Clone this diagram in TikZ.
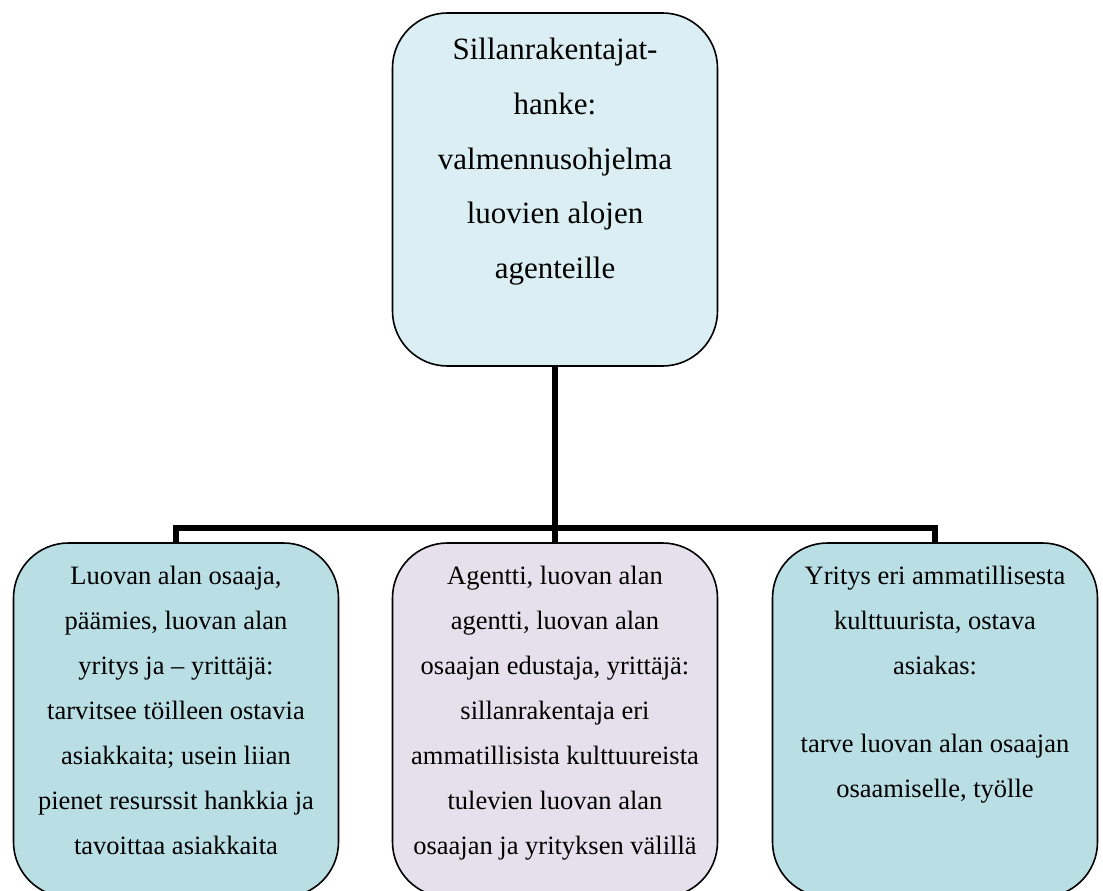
\documentclass[tikz,border=0pt]{standalone}
\usepackage{fontspec}
\setmainfont{Liberation Serif}

\definecolor{topfill}{HTML}{DAEEF3}
\definecolor{sidefill}{HTML}{B9DFE5}
\definecolor{midfill}{HTML}{E5E0EC}

\begin{document}
\begin{tikzpicture}[x=1pt,y=-1pt,
  box/.style={draw=black, line width=1.6pt, rounded corners=55pt,
    minimum width=325pt, minimum height=354pt, inner sep=0pt},
  txt/.style={align=center, inner sep=0pt, anchor=north},
  bigtxt/.style={txt, font=\fontsize{31}{54.7}\selectfont},
  smalltxt/.style={txt, font=\fontsize{26.5}{45}\selectfont},
  conn/.style={draw=black, line width=6pt}]

\useasboundingbox (0,0) rectangle (1103,891);
\clip (0,0) rectangle (1103,891);
\fill[white] (0,0) rectangle (1103,891);

% the four boxes
\node[box, fill=topfill, minimum height=353pt] (top) at (555,189.5) {};
\node[box, fill=sidefill] (left) at (176,720) {};
\node[box, fill=midfill] (mid) at (555,720) {};
\node[box, fill=sidefill] (right) at (935,720) {};

% tree connectors
\coordinate (bus) at (555,528);
\draw[conn] (top.south) -- (mid.north);
\draw[conn] (left.north) |- (bus) -| (right.north);

% box texts
\node[bigtxt] (toptext) at (555,38)
  {Sillanrakentajat-\\hanke:\\valmennusohjelma\\luovien alojen\\agenteille};
\node[smalltxt] (lefttext) at (176,566)
  {Luovan alan osaaja,\\päämies, luovan alan\\yritys ja – yrittäjä:\\tarvitsee töilleen ostavia\\asiakkaita; usein liian\\pienet resurssit hankkia ja\\tavoittaa asiakkaita};
\node[smalltxt] (midtext) at (555,566)
  {Agentti, luovan alan\\agentti, luovan alan\\osaajan edustaja, yrittäjä:\\sillanrakentaja eri\\ammatillisista kulttuureista\\tulevien luovan alan\\osaajan ja yrityksen välillä};
\node[smalltxt] (righttext) at (935,566)
  {Yritys eri ammatillisesta\\kulttuurista, ostava\\asiakas:\\[33pt]tarve luovan alan osaajan\\osaamiselle, työlle};
\end{tikzpicture}
\end{document}
